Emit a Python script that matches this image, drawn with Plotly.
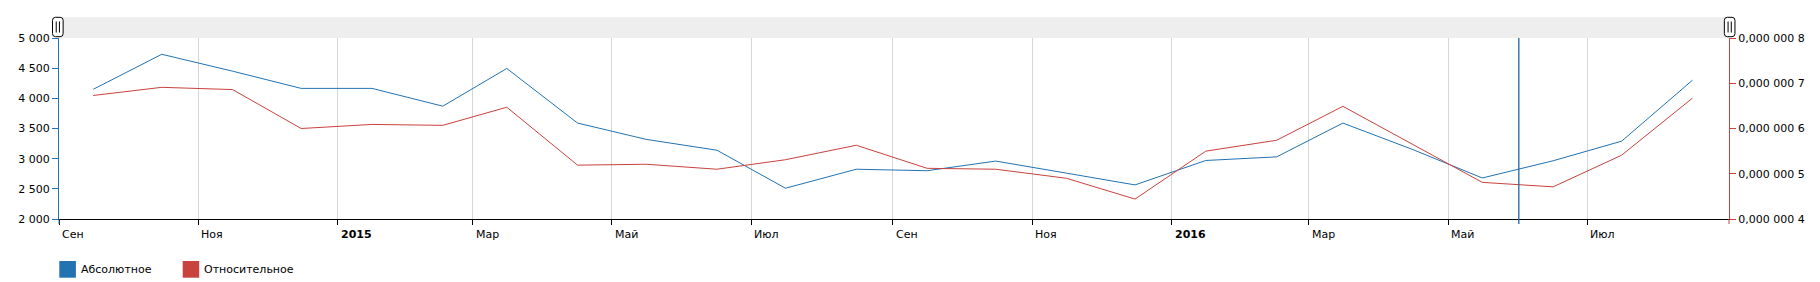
import plotly.graph_objects as go

# ---- data ----
dates = ["2014-09-16", "2014-10-16", "2014-11-16", "2014-12-16",
         "2015-01-16", "2015-02-16", "2015-03-16", "2015-04-16",
         "2015-05-16", "2015-06-16", "2015-07-16", "2015-08-16",
         "2015-09-16", "2015-10-16", "2015-11-16", "2015-12-16",
         "2016-01-16", "2016-02-16", "2016-03-16", "2016-04-16",
         "2016-05-16", "2016-06-16", "2016-07-16", "2016-08-16"]
absolute = [4150, 4730, 4450, 4165, 4165, 3870, 4495, 3590,
            3320, 3140, 2510, 2825, 2800, 2960, 2760, 2565,
            2970, 3030, 3590, 3145, 2680, 2965, 3290, 4300]
relative = [6.73e-7, 6.91e-7, 6.86e-7, 6.00e-7, 6.09e-7, 6.07e-7, 6.47e-7, 5.19e-7,
            5.21e-7, 5.10e-7, 5.31e-7, 5.63e-7, 5.12e-7, 5.10e-7, 4.90e-7, 4.44e-7,
            5.50e-7, 5.74e-7, 6.49e-7, 5.63e-7, 4.81e-7, 4.71e-7, 5.41e-7, 6.67e-7]

x_tick_dates = ["2014-09-01", "2014-11-01", "2015-01-01", "2015-03-01", "2015-05-01",
                "2015-07-01", "2015-09-01", "2015-11-01", "2016-01-01", "2016-03-01",
                "2016-05-01", "2016-07-01"]
x_tick_labels = ["Сен", "Ноя", "<b>2015</b>", "Мар", "Май", "Июл",
                 "Сен", "Ноя", "<b>2016</b>", "Мар", "Май", "Июл"]
y1_ticks = [2000, 2500, 3000, 3500, 4000, 4500, 5000]
y1_labels = ["2 000", "2 500", "3 000", "3 500", "4 000", "4 500", "5 000"]
y2_ticks = [4e-7, 5e-7, 6e-7, 7e-7, 8e-7]
y2_labels = ["0,000 000 4", "0,000 000 5", "0,000 000 6", "0,000 000 7", "0,000 000 8"]
series_names = ["Абсолютное", "Относительное"]
cursor_date = "2016-06-01"
x_range = ["2014-09-01", "2016-09-01"]

BLUE = "#2372b2"
RED = "#c8423e"
FONT = "DejaVu Sans"

fig = go.Figure()
fig.add_trace(go.Scatter(x=dates, y=absolute, name=series_names[0], mode="lines",
                         line=dict(color=BLUE, width=1), yaxis="y", showlegend=False))
fig.add_trace(go.Scatter(x=dates, y=relative, name=series_names[1], mode="lines",
                         line=dict(color=RED, width=1), yaxis="y2", showlegend=False))

W, H = 1820, 282
ML, MR, MT, MB = 59, 91, 38, 63
PW, PH = W - ML - MR, H - MT - MB


def px2paper_x(px):
    return (px - ML) / PW


def px2paper_y(py):
    return (H - MB - py) / PH


shapes = []
# scrollbar band
shapes.append(dict(type="rect", xref="paper", yref="paper", x0=0, x1=1,
                   y0=1, y1=px2paper_y(17), fillcolor="#eeeeee",
                   line=dict(width=0), layer="below"))
# handles
handle_path = ("M -5.3,-6.7 L -5.3,6.7 Q -5.3,9.7 -2.3,9.7 L 2.3,9.7 Q 5.3,9.7 5.3,6.7 "
               "L 5.3,-6.7 Q 5.3,-9.7 2.3,-9.7 L -2.3,-9.7 Q -5.3,-9.7 -5.3,-6.7 Z")
for xa in (-0.0007, 1.0004):
    shapes.append(dict(type="path", xref="paper", yref="paper", xsizemode="pixel",
                       ysizemode="pixel", xanchor=xa, yanchor=px2paper_y(27),
                       path=handle_path, fillcolor="white",
                       line=dict(color="#000000", width=1)))
    for dx in (-1.6, 1.6):
        shapes.append(dict(type="line", xref="paper", yref="paper", xsizemode="pixel",
                           ysizemode="pixel", xanchor=xa, yanchor=px2paper_y(27),
                           x0=dx, x1=dx, y0=-5.5, y1=5.5,
                           line=dict(color="#000000", width=1)))
# cursor line
shapes.append(dict(type="line", xref="x", yref="paper", x0=cursor_date, x1=cursor_date,
                   y0=px2paper_y(224), y1=1, line=dict(color="#1f67a3", width=1.3)))
# axis line extensions below the x axis
shapes.append(dict(type="line", xref="paper", yref="paper", x0=0, x1=0,
                   y0=px2paper_y(224), y1=0, line=dict(color=BLUE, width=1)))
shapes.append(dict(type="line", xref="paper", yref="paper", x0=1, x1=1,
                   y0=px2paper_y(224), y1=0, line=dict(color=RED, width=1)))
# legend swatches
shapes.append(dict(type="rect", xref="paper", yref="paper",
                   x0=px2paper_x(59.3), x1=px2paper_x(75.9),
                   y0=px2paper_y(261), y1=px2paper_y(277.7),
                   fillcolor=BLUE, line=dict(width=0)))
shapes.append(dict(type="rect", xref="paper", yref="paper",
                   x0=px2paper_x(182.7), x1=px2paper_x(199.2),
                   y0=px2paper_y(261), y1=px2paper_y(277.7),
                   fillcolor=RED, line=dict(width=0)))

annotations = []
for d, lab in zip(x_tick_dates, x_tick_labels):
    annotations.append(dict(x=d, xref="x", y=px2paper_y(234.5), yref="paper",
                            text=lab, showarrow=False, xanchor="left", yanchor="middle",
                            xshift=1, font=dict(family=FONT, size=11, color="#000000")))
annotations.append(dict(x=px2paper_x(78.5), xref="paper", y=px2paper_y(269.5), yref="paper",
                        text=series_names[0], showarrow=False, xanchor="left",
                        yanchor="middle", font=dict(family=FONT, size=11, color="#000000")))
annotations.append(dict(x=px2paper_x(202), xref="paper", y=px2paper_y(269.5), yref="paper",
                        text=series_names[1], showarrow=False, xanchor="left",
                        yanchor="middle", font=dict(family=FONT, size=11, color="#000000")))

fig.update_layout(
    width=W, height=H,
    margin=dict(l=ML, r=MR, t=MT, b=MB),
    paper_bgcolor="white", plot_bgcolor="white",
    font=dict(family=FONT, size=11, color="#000000"),
    showlegend=False,
    xaxis=dict(type="date", range=x_range, tickvals=x_tick_dates, showticklabels=False,
               ticks="outside", ticklen=5, tickcolor="#000000", showgrid=True,
               gridcolor="#d6d6d6", gridwidth=1, showline=True, linecolor="#000000",
               linewidth=1, zeroline=False, fixedrange=True),
    yaxis=dict(range=[2000, 5000], tickvals=y1_ticks, ticktext=y1_labels,
               ticks="outside", ticklen=6, tickcolor=BLUE, showline=True, linecolor=BLUE,
               linewidth=1, showgrid=False, zeroline=False,
               tickfont=dict(family=FONT, size=11, color="#000000")),
    yaxis2=dict(range=[4e-7, 8e-7], tickvals=y2_ticks, ticktext=y2_labels, overlaying="y",
                side="right", ticks="outside", ticklen=6, tickcolor=RED, showline=True,
                linecolor=RED, linewidth=1, showgrid=False, zeroline=False,
                tickfont=dict(family=FONT, size=11, color="#000000")),
    shapes=shapes,
    annotations=annotations,
)

fig.write_html("out.html")
